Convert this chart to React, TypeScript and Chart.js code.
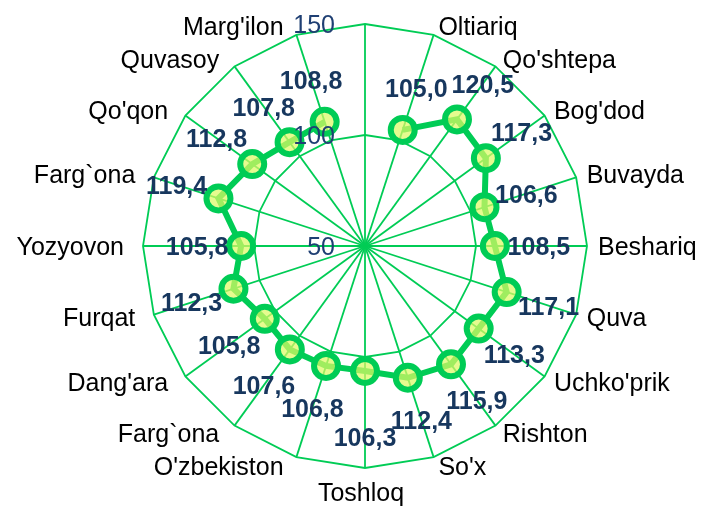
import React, { useEffect, useRef } from 'react';
import { Chart, registerables } from 'chart.js';

Chart.register(...registerables);

const categories: string[] = [
  '', 'Oltiariq', "Qo'shtepa", "Bog'dod", 'Buvayda', 'Beshariq', 'Quva', "Uchko'prik",
  'Rishton', "So'x", 'Toshloq', "O'zbekiston", 'Farg`ona', "Dang'ara", 'Furqat',
  'Yozyovon', 'Farg`ona', "Qo'qon", 'Quvasoy', "Marg'ilon",
];
const values: (number | null)[] = [
  null, 105.0, 120.5, 117.3, 106.6, 108.5, 117.1, 113.3, 115.9, 112.4, 106.3,
  106.8, 107.6, 105.8, 112.3, 105.8, 119.4, 112.8, 107.8, 108.8,
];
const tickValues: number[] = [50, 100, 150];

const FONT = '"Liberation Sans", Arial, sans-serif';
const GREEN = '#00CC55';
const NAVY = '#17375E';
const TICK_NAVY = '#1F3F73';
const FS = 25;
const CAP_MID = 0.358 * FS;

const fmt = (v: number) => v.toFixed(1).replace('.', ',');

const textPlugin = {
  id: 'texts',
  afterDatasetsDraw(chart: any) {
    const scale = chart.scales.r;
    const ctx = chart.ctx as CanvasRenderingContext2D;
    const R = scale.drawingArea;
    ctx.save();
    ctx.textBaseline = 'alphabetic';

    // category labels
    ctx.font = `${FS}px ${FONT}`;
    ctx.fillStyle = '#000000';
    const shift = -4;
    categories.forEach((lab, i) => {
      if (!lab) return;
      const ang = scale.getIndexAngle(i);
      const s = Math.sin(ang);
      const c = Math.cos(ang);
      const p = scale.getPointPosition(i, R);
      let x: number;
      let y: number;
      if (Math.abs(s) < 0.01) {
        ctx.textAlign = 'center';
        x = p.x + shift;
        y = p.y + (c < 0 ? 24.5 : -24.5);
      } else {
        ctx.textAlign = s > 0 ? 'left' : 'right';
        x = p.x + Math.sign(s) * (6 + 9 * Math.abs(s)) + shift;
        y = p.y - 9.5 * c;
      }
      ctx.fillText(lab, x, y + CAP_MID);
    });

    // data labels
    ctx.font = `bold ${FS}px ${FONT}`;
    ctx.fillStyle = NAVY;
    ctx.textAlign = 'center';
    values.forEach((v, i) => {
      if (v === null) return;
      const extra = i === 10 ? 66 : 44;
      const d = scale.getDistanceFromCenterForValue(v) + extra;
      const p = scale.getPointPosition(i, d);
      ctx.fillText(fmt(v), p.x, p.y + CAP_MID);
    });

    // tick labels
    ctx.font = `${FS}px ${FONT}`;
    ctx.fillStyle = TICK_NAVY;
    ctx.textAlign = 'right';
    tickValues.forEach((t) => {
      const d = scale.getDistanceFromCenterForValue(t);
      ctx.fillText(String(t), scale.xCenter - 30, scale.yCenter - d + CAP_MID);
    });
    ctx.restore();
  },
};

export default function App() {
  const ref = useRef<HTMLCanvasElement | null>(null);
  useEffect(() => {
    document.body.style.margin = '0';
    if (!ref.current) return;
    const chart = new Chart(ref.current, {
      type: 'radar',
      data: {
        labels: categories,
        datasets: [
          {
            data: values,
            borderColor: GREEN,
            borderWidth: 6,
            backgroundColor: 'rgba(0,0,0,0)',
            fill: false,
            spanGaps: false,
            pointRadius: 12,
            pointBorderWidth: 6,
            pointBorderColor: GREEN,
            pointBackgroundColor: 'rgba(220,250,100,0.72)',
            pointHoverRadius: 12,
          },
        ],
      },
      options: {
        animation: false,
        responsive: true,
        maintainAspectRatio: false,
        layout: { padding: { top: 24, bottom: 38, left: 26, right: 0 } },
        plugins: { legend: { display: false }, tooltip: { enabled: false } },
        scales: {
          r: {
            min: 50,
            max: 150,
            ticks: { stepSize: 50, display: false },
            grid: { color: GREEN, lineWidth: 1.8, circular: false },
            angleLines: { color: GREEN, lineWidth: 1.8 },
            pointLabels: { display: false },
          },
        },
      },
      plugins: [textPlugin],
    });
    return () => chart.destroy();
  }, []);
  return (
    <div style={{ width: 704, height: 506, position: 'relative' }}>
      <canvas ref={ref} />
    </div>
  );
}
